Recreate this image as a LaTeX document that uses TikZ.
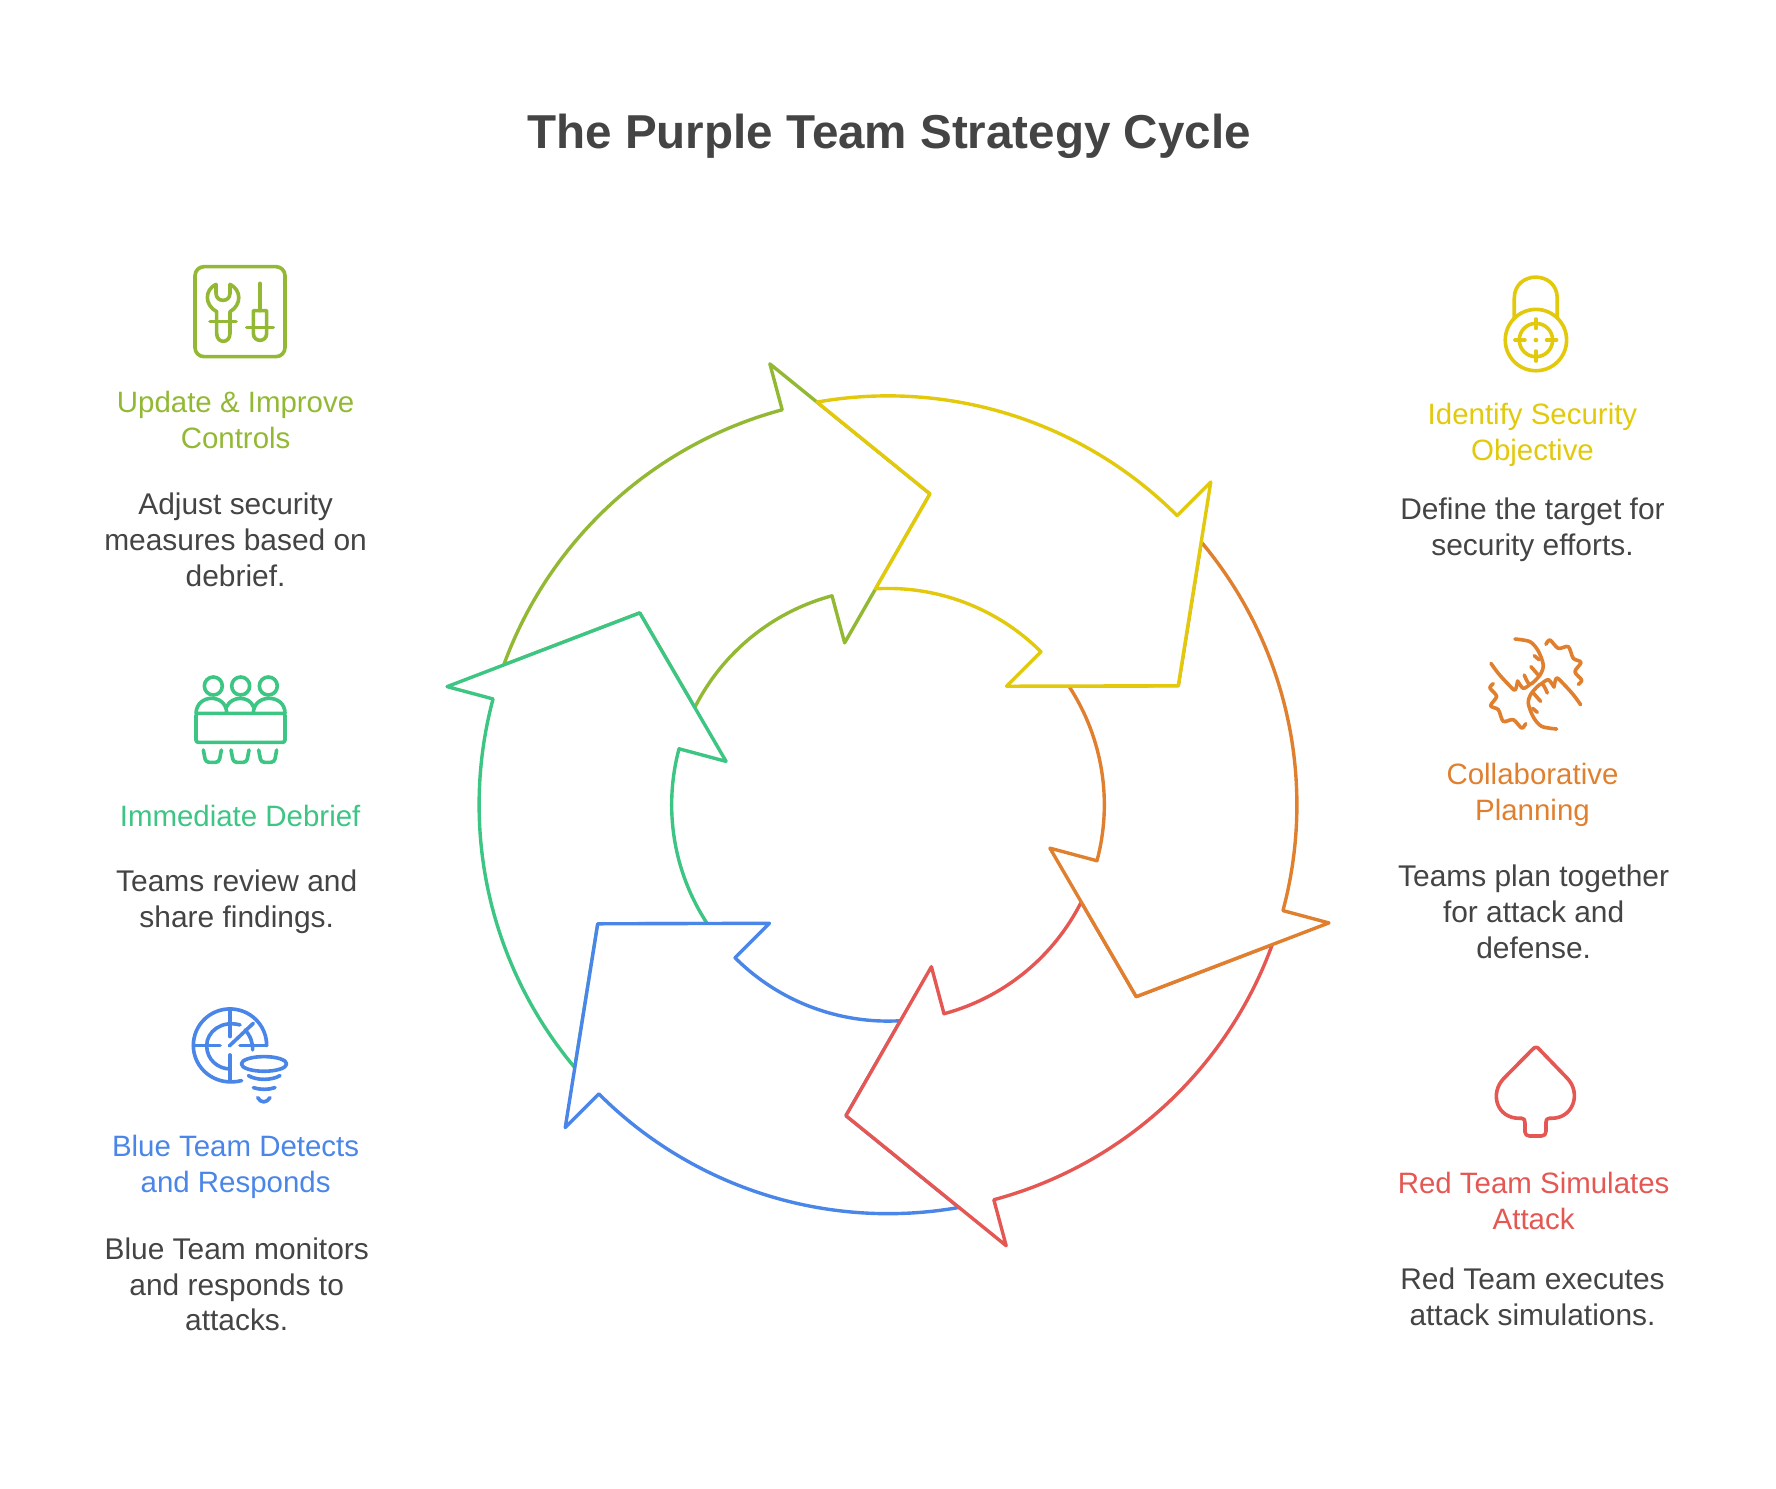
\documentclass[tikz,border=0pt]{standalone}
\usepackage{fontspec}
\setmainfont{Liberation Sans}
\definecolor{cyclelime}{HTML}{93B934}
\definecolor{cyclegreen}{HTML}{3CC583}
\definecolor{cycleblue}{HTML}{4A85E8}
\definecolor{cyclered}{HTML}{E55753}
\definecolor{cycleorange}{HTML}{E0802F}
\definecolor{cycleyellow}{HTML}{E2C90C}
\definecolor{cycletext}{HTML}{444444}
\tikzset{
    headtext/.style={align=center,inner sep=0pt,font=\fontsize{13}{15.8}\selectfont},
    bodytext/.style={align=center,inner sep=0pt,text=cycletext,font=\fontsize{13.2}{15.8}\selectfont},
    icon/.style={scale=0.2943,line width=1.6pt,line cap=round,line join=round}
}
\begin{document}
\begin{tikzpicture}[x=0.5pt,y=-0.5pt]
    \useasboundingbox (0,0) rectangle (1568,1314);
    \node[inner sep=0pt,text=cycletext,font=\fontsize{21}{25}\selectfont\bfseries] (title) at (785,120) {The Purple Team Strategy Cycle};

    \pgfmathsetmacro{\outerr}{361}
    \pgfmathsetmacro{\tipr}{403}
    \pgfmathsetmacro{\midr}{277}
    \pgfmathsetmacro{\notchr}{148}
    \pgfmathsetmacro{\innerr}{191}
    \foreach \ang/\col in {60/cyclelime,120/cyclegreen,180/cycleblue,240/cyclered,300/cycleorange,360/cycleyellow}{
        \begin{scope}[shift={(784,710.5)},y=0.5pt,rotate=\ang]
            \draw[\col,fill=white,line width=1.5pt,line join=round]
                (100:\outerr) arc[start angle=100,end angle=45,radius=\outerr]
                -- (45:\tipr) -- (22.3:\midr) -- (45:\notchr) -- (45:\innerr)
                arc[start angle=45,end angle=93.3,radius=\innerr]
                -- (82.3:\midr) -- cycle;
        \end{scope}
    }

    \node[headtext,text=cyclelime] (update) at (208,370.5) {Update \& Improve\\Controls};
    \node[bodytext] (updatebody) at (208,476.5) {Adjust security\\measures based on\\debrief.};
    \node[headtext,text=cyclegreen] (debrief) at (212,720) {Immediate Debrief};
    \node[bodytext] (debriefbody) at (209,796) {Teams review and\\share findings.};
    \node[headtext,text=cycleblue] (blue) at (208,1030) {Blue Team Detects\\and Responds};
    \node[bodytext] (bluebody) at (209,1134) {Blue Team monitors\\and responds to\\attacks.};
    \node[headtext,text=cycleyellow] (identify) at (1353,384) {Identify Security\\Objective};
    \node[bodytext] (identifybody) at (1353,468) {Define the target for\\security efforts.};
    \node[headtext,text=cycleorange] (planning) at (1353,702) {Collaborative\\Planning};
    \node[bodytext] (planningbody) at (1354,805) {Teams plan together\\for attack and\\defense.};
    \node[headtext,text=cyclered] (red) at (1354,1060) {Red Team Simulates\\Attack};
    \node[bodytext] (redbody) at (1353,1145) {Red Team executes\\attack simulations.};

    \begin{scope}[shift={(150.1,220.7)},icon,cyclelime]
        \draw[rounded corners=4pt] (75,50) rectangle (345,320);
        \draw (138,103) -- (138,130) .. controls (138,158) and (180,158) .. (180,130) -- (180,103)
            .. controls (215,120) and (215,165) .. (180,185) -- (180,250)
            .. controls (180,282) and (140,282) .. (140,250) -- (140,185)
            .. controls (103,165) and (103,120) .. (138,103);
        \draw (120,215) -- (198,215);
        \draw (270,100) -- (270,182);
        \draw (250,182) -- (290,182) -- (290,250) .. controls (290,278) and (250,278) .. (250,250) -- cycle;
        \draw (230,233) -- (310,233);
    \end{scope}

    \begin{scope}[shift={(150.1,587.1)},icon,cyclegreen]
        \foreach \cx in {130,212,295}
            \draw (\cx,63) circle (27);
        \draw[rounded corners=1pt] (78,145) rectangle (345,232);
        \draw (78,145) .. controls (80,85) and (170,85) .. (170,145);
        \draw (170,125) .. controls (185,92) and (238,92) .. (250,125);
        \draw (250,145) .. controls (250,85) and (345,85) .. (345,145);
        \foreach \cx in {127,210,293}
            \draw[rounded corners=1.5pt] (\cx-27,255) -- (\cx-20,292) -- (\cx+20,292) -- (\cx+27,255);
    \end{scope}

    \begin{scope}[shift={(150.1,882.8)},icon,cycleblue]
        \draw (215,242) .. controls (135,262) and (70,205) .. (70,137)
            .. controls (70,75) and (120,27) .. (180,27)
            .. controls (240,27) and (290,75) .. (290,137);
        \draw (210,75) .. controls (155,60) and (110,95) .. (110,137)
            .. controls (110,180) and (145,207) .. (180,207);
        \draw (225,90) .. controls (240,105) and (248,125) .. (248,150);
        \draw (180,30) -- (180,110);
        \draw (180,165) -- (180,240);
        \draw (70,137) -- (150,137);
        \draw (210,137) -- (290,137);
        \draw (178,138) -- (250,70);
        \draw (282,192) ellipse (68 and 22);
        \draw (235,227) .. controls (260,242) and (305,242) .. (330,227);
        \draw (250,263) .. controls (270,270) and (295,270) .. (315,263);
        \draw (263,293) .. controls (272,310) and (290,310) .. (300,293);
    \end{scope}

    \begin{scope}[shift={(1306.6,234)},icon,cycleyellow]
        \draw (103,160) -- (103,100) .. controls (103,15) and (232,15) .. (232,100) -- (232,160);
        \draw (168,225) circle (92);
        \draw (168,225) circle (50);
        \draw (168,162) -- (168,190);
        \draw (168,258) -- (168,288);
        \draw (105,225) -- (135,225);
        \draw (200,225) -- (230,225);
        \fill (168,225) circle (7);
    \end{scope}

    \begin{scope}[shift={(1302.2,551.8)},icon,cycleorange]
        \foreach \rot in {0,180}{
            \begin{scope}[rotate around={\rot:(182.5,177)}]
                \draw plot[smooth] coordinates {(120,42) (165,50) (190,78) (205,120) (195,150) (165,178) (148,150)};
                \draw (178,92) -- (192,104);
                \draw (168,125) -- (190,150);
                \draw plot[smooth] coordinates {(165,178) (145,190) (128,168)};
                \draw plot[smooth] coordinates {(128,168) (120,195) (100,178) (70,145) (48,115)};
                \draw plot[smooth] coordinates {(213,58) (225,45) (250,70) (280,65) (295,100) (318,112) (300,140) (320,165) (310,178)};
            \end{scope}
        }
    \end{scope}

    \begin{scope}[shift={(1306.6,909.3)},icon,cyclered]
        \draw (158,58) .. controls (165,50) and (172,50) .. (178,58) -- (262,145)
            .. controls (305,190) and (280,265) .. (215,265) -- (208,265)
            .. controls (200,265) and (198,270) .. (198,278) -- (198,305)
            .. controls (198,313) and (193,318) .. (185,318) -- (148,318)
            .. controls (140,318) and (135,313) .. (135,305) -- (135,278)
            .. controls (135,270) and (133,265) .. (125,265) -- (118,265)
            .. controls (50,265) and (28,190) .. (72,145) -- cycle;
    \end{scope}
\end{tikzpicture}
\end{document}
